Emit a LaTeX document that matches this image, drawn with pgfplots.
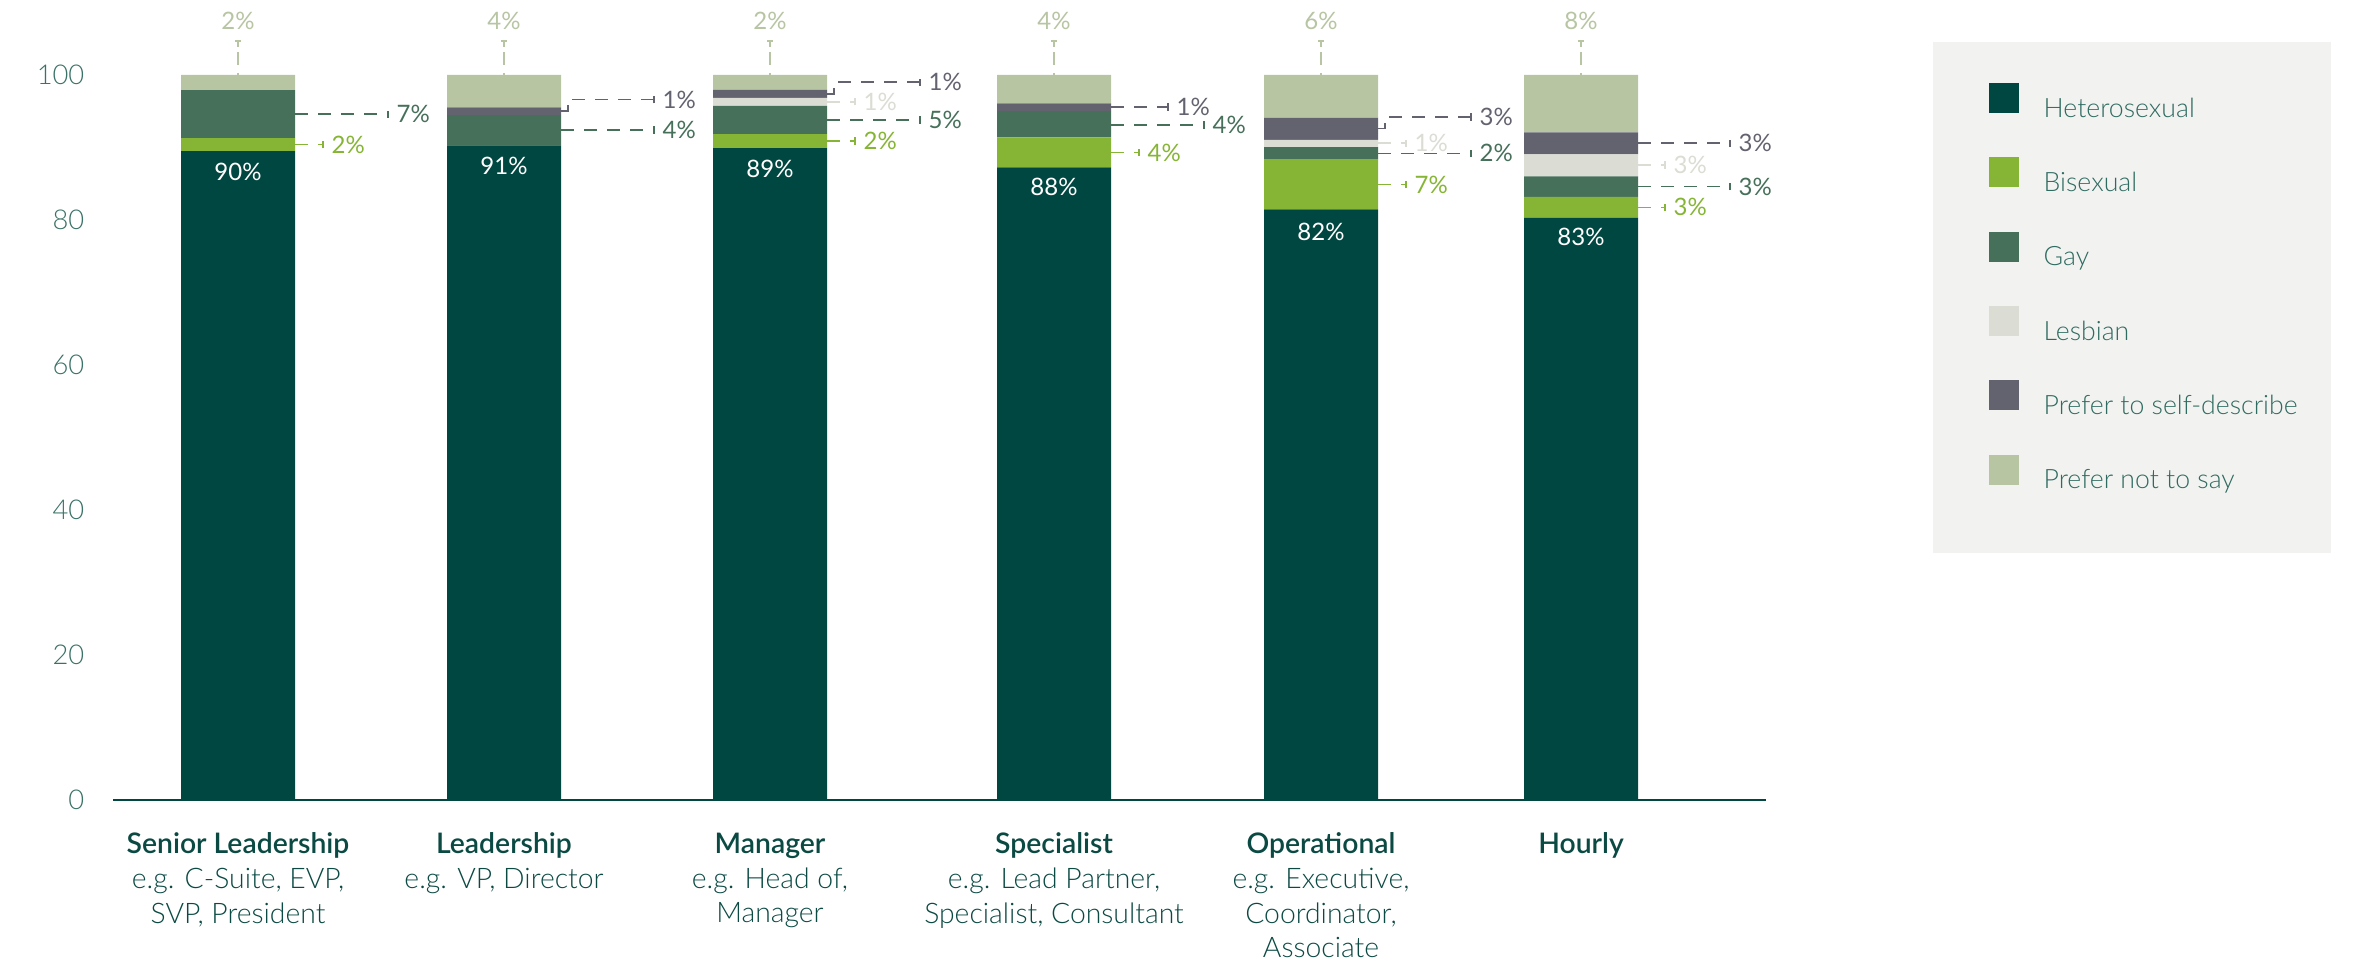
\documentclass[border=0pt]{standalone}
\usepackage{fontspec}
\setmainfont{Lato}
\newfontfamily\latolight{Lato Light}
\usepackage{pgfplots}
\usepackage{pgfplotstable}
\pgfplotsset{compat=1.18}

\definecolor{het}{HTML}{004741}
\definecolor{bi}{HTML}{86B535}
\definecolor{gay}{HTML}{46705A}
\definecolor{les}{HTML}{DBDCD3}
\definecolor{slf}{HTML}{63636F}
\definecolor{pnts}{HTML}{B7C5A3}
\definecolor{tickc}{HTML}{3A7267}
\definecolor{catc}{HTML}{0B4A43}
\definecolor{legbg}{HTML}{F2F2F0}
\definecolor{legtext}{HTML}{2E6B60}

\pgfplotstableread{
x het bi gay les slf pnts
238 89.5 1.8 6.6 0 0 2.1
504 90.3 0 4.15 0 1.1 4.45
770 89.9 1.95 3.9 1.1 1.1 2.05
1054 87.25 4.15 3.6 0 1.1 3.9
1321 81.45 6.95 1.65 1.0 3.05 5.9
1581 80.3 2.9 2.8 3.05 3.05 7.9
}\datatable

\newcommand\lblfont{\fontsize{7.2bp}{8.5bp}\selectfont}
\tikzset{ldr/.style={line width=0.45bp, dash pattern=on 3.9bp off 3bp}}
% x1 x2 y color text
\newcommand\leader[5]{%
 \draw[ldr,#4] (axis cs:#1,#3) -- (axis cs:#2,#3);
 \draw[line width=0.45bp,#4] (axis cs:#2,#3-0.5) -- (axis cs:#2,#3+0.5);
 \node[anchor=west,inner sep=0pt,text=#4,font=\lblfont] at (axis cs:#2+8,#3) {#5};}
% x1 x2 y0 y1 color text
\newcommand\eleader[6]{%
 \draw[ldr,#5] (axis cs:#1,#3) -- (axis cs:#1+7,#3) -- (axis cs:#1+7,#4) -- (axis cs:#2,#4);
 \draw[line width=0.45bp,#5] (axis cs:#2,#4-0.5) -- (axis cs:#2,#4+0.5);
 \node[anchor=west,inner sep=0pt,text=#5,font=\lblfont] at (axis cs:#2+8,#4) {#6};}
% x text
\newcommand\topl[2]{%
 \draw[line width=0.45bp,pnts,dash pattern=on 1.8bp off 1.5bp on 3.9bp off 2.4bp] (axis cs:#1,104.7) -- (axis cs:#1,100);
 \draw[line width=0.45bp,pnts] (axis cs:#1-3,104.7) -- (axis cs:#1+3,104.7);
 \node[text=pnts,font=\lblfont,inner sep=0pt] at (axis cs:#1,107.4) {#2};}

\begin{document}
\begin{tikzpicture}
\useasboundingbox (0,0) rectangle (708.3bp,289.8bp);
\fill[legbg] (579.9bp,123.9bp) rectangle (699.3bp,277.2bp);
\begin{axis}[
  at={(33.9bp,49.8bp)}, anchor=south west,
  width=495.9bp, height=217.5bp, scale only axis,
  ybar stacked, bar width=114,
  xmin=113, xmax=1766, ymin=0, ymax=100,
  enlargelimits=false, clip=false,
  axis x line*=bottom, axis y line*=left,
  x axis line style={het, line width=0.6bp, -},
  y axis line style={draw=none},
  major tick length=0pt,
  ytick={0,20,40,60,80,100},
  /pgf/number format/assume math mode=true,
  yticklabel style={font=\latolight\fontsize{8.2bp}{9bp}\selectfont, text=tickc, inner sep=0pt, xshift=-8.4bp},
  xtick={238,504,770,1054,1321,1581},
  xticklabels={
    {\textbf{Senior Leadership}\\e.g. C-Suite, EVP,\\SVP, President},
    {\textbf{Leadership}\\e.g. VP, Director},
    {\textbf{Manager}\\e.g. Head of,\\Manager},
    {\textbf{Specialist}\\e.g. Lead Partner,\\Specialist, Consultant},
    {\textbf{Operational}\\e.g. Executive,\\Coordinator,\\Associate},
    {\textbf{Hourly}}},
  xticklabel style={align=center, font=\latolight\fontsize{8.5bp}{10.4bp}\selectfont, text=catc, anchor=north, inner sep=0pt, yshift=-9.7bp},
  legend cell align=left,
  legend image code/.code={\fill[#1] (0bp,-1.6bp) rectangle (9bp,7.4bp);},
  legend style={at={(axis description cs:1.1343,0.99)}, anchor=north west,
    draw=none, fill=none, inner sep=0pt, row sep=10.4bp, column sep=7.5bp,
    font=\latolight\fontsize{8bp}{9bp}\selectfont,
    nodes={inner sep=0pt, text height=7.4bp, text depth=1.6bp, text=legtext}},
]
\addplot[fill=het, draw=none] table[x=x,y=het]{\datatable};
\addplot[fill=bi, draw=none] table[x=x,y=bi]{\datatable};
\addplot[fill=gay, draw=none] table[x=x,y=gay]{\datatable};
\addplot[fill=les, draw=none] table[x=x,y=les]{\datatable};
\addplot[fill=slf, draw=none] table[x=x,y=slf]{\datatable};
\addplot[fill=pnts, draw=none] table[x=x,y=pnts]{\datatable};
\legend{Heterosexual, Bisexual, Gay, Lesbian, Prefer to self-describe, Prefer not to say}

\coordinate (h1) at (axis cs:238,86.7);
\coordinate (h2) at (axis cs:504,87.5);
\coordinate (h3) at (axis cs:770,87.1);
\coordinate (h4) at (axis cs:1054,84.5);
\coordinate (h5) at (axis cs:1321,78.4);
\coordinate (h6) at (axis cs:1581,77.6);

% Senior Leadership
\leader{295}{323}{90.4}{bi}{2\%}
\leader{295}{388}{94.6}{gay}{7\%}
\topl{238}{2\%}
% Leadership
\leader{561}{654}{92.4}{gay}{4\%}
\eleader{561}{654}{95.0}{96.6}{slf}{1\%}
\topl{504}{4\%}
% Manager
\leader{827}{855}{90.9}{bi}{2\%}
\leader{827}{920}{93.8}{gay}{5\%}
\leader{827}{855}{96.3}{les}{1\%}
\eleader{827}{920}{97.4}{99.0}{slf}{1\%}
\topl{770}{2\%}
% Specialist
\leader{1111}{1139}{89.3}{bi}{4\%}
\leader{1111}{1204}{93.1}{gay}{4\%}
\leader{1111}{1168}{95.6}{slf}{1\%}
\topl{1054}{4\%}
% Operational
\leader{1378}{1406}{84.9}{bi}{7\%}
\leader{1378}{1471}{89.2}{gay}{2\%}
\leader{1378}{1406}{90.6}{les}{1\%}
\eleader{1378}{1471}{92.6}{94.2}{slf}{3\%}
\topl{1321}{6\%}
% Hourly
\leader{1638}{1665}{81.75}{bi}{3\%}
\leader{1638}{1730}{84.6}{gay}{3\%}
\leader{1638}{1665}{87.6}{les}{3\%}
\leader{1638}{1730}{90.6}{slf}{3\%}
\topl{1581}{8\%}
\end{axis}
\foreach \c/\t in {h1/90, h2/91, h3/89, h4/88, h5/82, h6/83}
  \node[text=white,font=\lblfont,inner sep=0pt] at (\c) {\t\%};
\end{tikzpicture}
\end{document}
